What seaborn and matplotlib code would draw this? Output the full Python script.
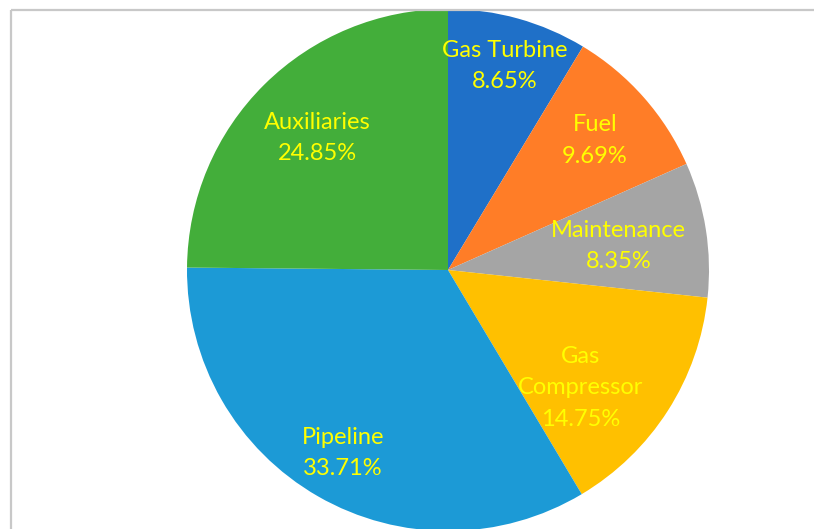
import numpy as np
import matplotlib
matplotlib.use("Agg")
import matplotlib.pyplot as plt
from matplotlib.lines import Line2D
import seaborn as sns

# Cost breakdown shares (percent), clockwise from 12 o'clock
categories = ["Gas Turbine", "Fuel", "Maintenance", "Gas\nCompressor", "Pipeline", "Auxiliaries"]
shares = [8.65, 9.69, 8.35, 14.75, 33.71, 24.85]
slice_colors = ["#1F70C8", "#FF7D27", "#A5A5A5", "#FFC000", "#1C9AD6", "#43AE3A"]

sns.set_theme(style="white")
plt.rcParams["font.family"] = ["Lato", "DejaVu Sans"]
palette = sns.color_palette(slice_colors)

W, H = 814, 529
fig = plt.figure(figsize=(W / 100, H / 100), dpi=100)
fig.patch.set_facecolor("white")

# pie centre and radius in pixels
cx, cy, R = 448, 270, 261
ax = fig.add_axes([(cx - R) / W, 1 - (cy + R) / H, 2 * R / W, 2 * R / H])
wedges, _ = ax.pie(shares, colors=palette, startangle=90, counterclock=False,
                   radius=1, wedgeprops=dict(linewidth=0))
ax.set_xlim(-1, 1)
ax.set_ylim(-1, 1)
ax.set_aspect("auto")
ax.axis("off")

# label placement: radial fraction and angular nudge (degrees) per slice
label_radius = [0.81, 0.75, 0.66, 0.68, 0.81, 0.71]
label_nudge = [0, 0, -1, -9, 0, 0]
for w, name, val, rf, dn in zip(wedges, categories, shares, label_radius, label_nudge):
    mid = np.deg2rad((w.theta1 + w.theta2) / 2 + dn)
    ax.text(rf * np.cos(mid), rf * np.sin(mid), f"{name}\n{val:.2f}%",
            ha="center", va="center", color="#FFFF00", fontsize=17,
            linespacing=1.6)

# chart-area frame (left and top edges visible)
fig.add_artist(Line2D([11 / W, 11 / W], [0, 1 - 10 / H], transform=fig.transFigure,
                      color="#C8C8C8", linewidth=1.6, solid_capstyle="butt"))
fig.add_artist(Line2D([11 / W, 1], [1 - 10 / H, 1 - 10 / H], transform=fig.transFigure,
                      color="#C8C8C8", linewidth=1.6, solid_capstyle="butt"))

fig.savefig("out.png", dpi=100, facecolor="white")
